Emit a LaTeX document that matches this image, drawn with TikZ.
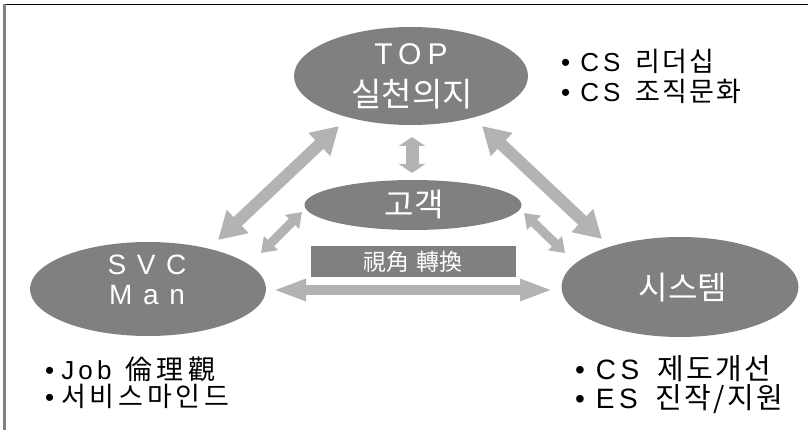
\documentclass[tikz,border=0pt]{standalone}
\usepackage{fontspec}
\usetikzlibrary{arrows.meta,shapes.geometric}
\newfontfamily\kr{Noto Sans CJK KR}
\newfontfamily\krb[LetterSpace=8]{Noto Sans CJK KR}
\newfontfamily\krc[LetterSpace=14]{Noto Sans CJK KR}
\newfontfamily\krh[LetterSpace=16]{Noto Sans CJK KR}
\newfontfamily\lat[LetterSpace=38]{Liberation Sans}
\newfontfamily\latt[LetterSpace=20]{Liberation Sans}
\newfontfamily\latb[LetterSpace=16]{Liberation Sans}
\newfontfamily\bul{Liberation Sans}
\definecolor{ellc}{HTML}{808080}
\definecolor{arrc}{HTML}{B3B3B3}
\definecolor{framec}{HTML}{808080}
\begin{document}
\begin{tikzpicture}[x=1pt,y=-1pt,
  bubble/.style={ellipse, fill=ellc, draw=none, inner sep=0pt},
  wtxt/.style={text=white, inner sep=0pt},
  btxt/.style={text=black, inner sep=0pt, anchor=base west},
  bigarrow/.style={draw=arrc, line width=12pt, {Triangle[width=30pt,length=27pt]}-{Triangle[width=30pt,length=27pt]}},
  vertarrow/.style={draw=arrc, line width=13pt, {Triangle[width=26pt,length=9pt]}-{Triangle[width=26pt,length=9pt]}},
  smallarrow/.style={draw=arrc, line width=9pt, {Triangle[width=19pt,length=14pt]}-{Triangle[width=19pt,length=14pt]}},
  horarrow/.style={draw=arrc, line width=10pt, {Triangle[width=20pt,length=33pt]}-{Triangle[width=20pt,length=33pt]}}
]
\useasboundingbox (0,0) rectangle (808,430);
% frame
\coordinate (fl) at (4.5,4.5);
\coordinate (fr) at (808,4.5);
\coordinate (fb) at (4.5,430);
\draw[black, line width=1.3pt] (fl) -- (fr);
\draw[framec, line width=2.5pt] (fl) -- (fb);

% ellipses
\node[bubble, minimum width=234pt, minimum height=98pt] (top) at (411,76) {};
\node[bubble, minimum width=217pt, minimum height=50pt] (cust) at (413,205) {};
\node[bubble, minimum width=236pt, minimum height=94pt] (svc) at (148,289) {};
\node[bubble, minimum width=237pt, minimum height=100pt] (sys) at (680,287) {};

% rectangle
\node[fill=ellc, minimum width=205pt, minimum height=31pt, inner sep=0pt] (view) at (413.5,261.5) {};

% texts in shapes
\node[wtxt] (topa) at (411,54) {\fontsize{30}{30}\selectfont\latt TOP};
\node[wtxt] (topb) at (412,94) {\fontsize{33}{33}\selectfont\kr 실천의지};
\node[wtxt] (custt) at (414,205) {\fontsize{32}{32}\selectfont\kr 고객};
\node[wtxt] (viewt) at (413,262) {\fontsize{23}{23}\selectfont\kr 視角\hspace{7pt}轉換};
\node[wtxt] (svca) at (147,265) {\fontsize{28}{28}\selectfont\lat SVC};
\node[wtxt] (svcb) at (147,295) {\fontsize{28}{28}\selectfont\lat Man};
\node[wtxt] (syst) at (683,288) {\fontsize{32}{32}\selectfont\kr 시스템};

% bullet texts
\node[btxt] (tr1) at (561,72) {\fontsize{26}{26}\selectfont\bul •\hspace{10pt}\latb CS\hspace{15pt}\fontsize{27}{27}\selectfont\krb 리더십};
\node[btxt] (tr2) at (561,102) {\fontsize{26}{26}\selectfont\bul •\hspace{10pt}\latb CS\hspace{15pt}\fontsize{27}{27}\selectfont\krb 조직문화};
\node[btxt] (bl1) at (45,379) {\fontsize{26}{26}\selectfont\bul •\hspace{7pt}\latb Job\hspace{14pt}\fontsize{27}{27}\selectfont\krh 倫理觀};
\node[btxt] (bl2) at (45,406) {\fontsize{26}{26}\selectfont\bul •\hspace{7pt}\fontsize{27}{27}\selectfont\krc 서비스마인드};
\node[btxt] (br1) at (575,379) {\fontsize{28}{28}\selectfont\bul •\hspace{11pt}\latb CS\hspace{18pt}\fontsize{29}{29}\selectfont\krb 제도개선};
\node[btxt] (br2) at (575,408) {\fontsize{28}{28}\selectfont\bul •\hspace{11pt}\latb ES\hspace{18pt}\fontsize{29}{29}\selectfont\krb 진작/지원};

% arrow end points
\coordinate (a1s) at (339,126);
\coordinate (a1e) at (218,240);
\coordinate (a2s) at (482,126);
\coordinate (a2e) at (602,239);
\coordinate (a3s) at (412,137);
\coordinate (a3e) at (412,173);
\coordinate (a4s) at (302,212);
\coordinate (a4e) at (261,253);
\coordinate (a5s) at (524,213);
\coordinate (a5e) at (565,253);
\coordinate (a6s) at (273,290);
\coordinate (a6e) at (553,290);

\draw[bigarrow] (a1s) -- (a1e);
\draw[bigarrow] (a2s) -- (a2e);
\draw[vertarrow] (a3s) -- (a3e);
\draw[smallarrow] (a4s) -- (a4e);
\draw[smallarrow] (a5s) -- (a5e);
\draw[horarrow] (a6s) -- (a6e);
\end{tikzpicture}
\end{document}
